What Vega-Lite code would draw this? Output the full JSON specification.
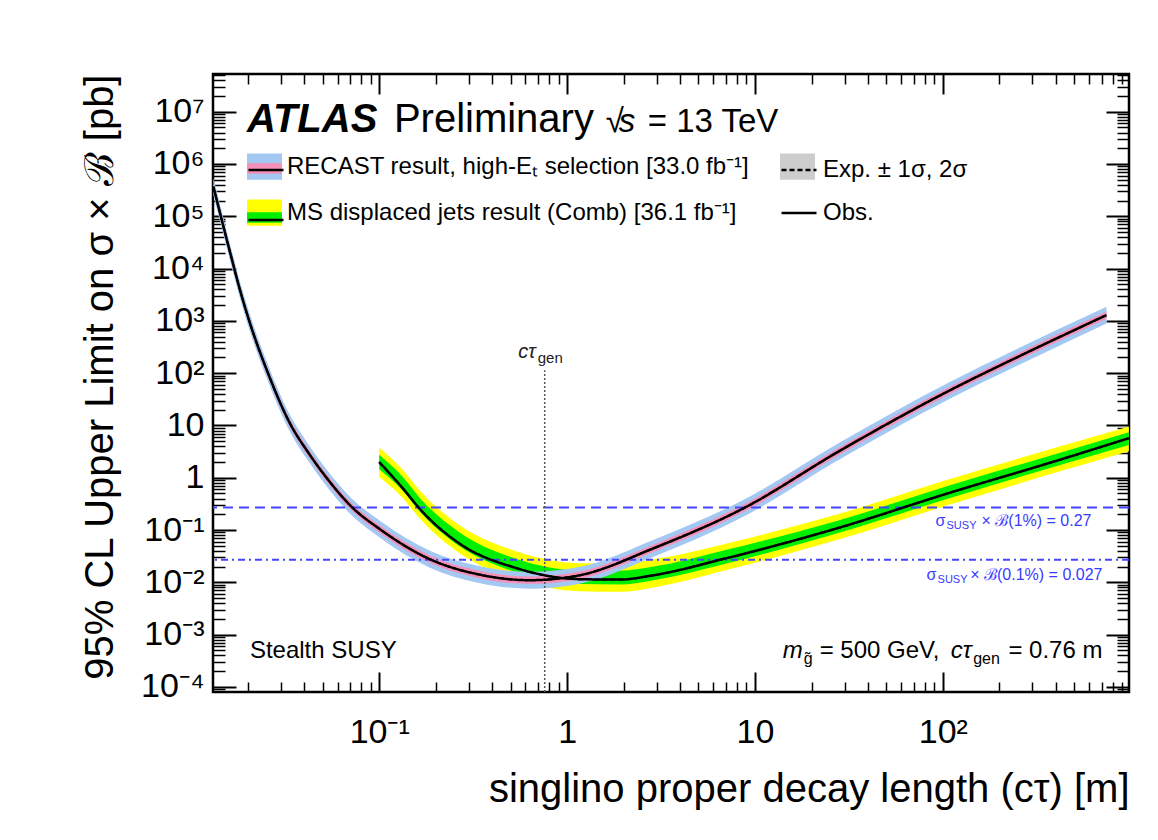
{
"$schema": "https://vega.github.io/schema/vega-lite/v6.json",
"width": 916, "height": 618,
"autosize": {"type": "none"},
"padding": {"left": 213, "top": 74, "right": 29, "bottom": 148},
"background": "white",
"config": {
  "view": {"stroke": "black", "strokeWidth": 2.5},
  "font": "Liberation Sans",
  "axis": {"domain": false, "grid": false, "tickColor": "black", "labelColor": "black", "titleColor": "black", "labelFont": "Liberation Sans", "titleFont": "Liberation Sans", "titleFontWeight": "normal", "labelOverlap": false, "labelFlush": false, "labelBound": false},
  "legend": {"orient": "none", "title": null, "padding": 0, "labelFont": "Liberation Sans", "labelFontSize": 24, "labelColor": "black", "labelLimit": 2000, "labelOffset": 5, "symbolSize": 1225}
},
"datasets": {
  "recast": [
    {"result":"RECAST","ctau":0.0131,"obs":370000,"exp":370000,"lo2":255000,"lo1":315000,"hi1":435000,"hi2":537000},
    {"result":"RECAST","ctau":0.01606,"obs":20700,"exp":20700,"lo2":14300,"lo1":17600,"hi1":24300,"hi2":30000},
    {"result":"RECAST","ctau":0.01816,"obs":3880,"exp":3880,"lo2":2680,"lo1":3300,"hi1":4560,"hi2":5630},
    {"result":"RECAST","ctau":0.02027,"obs":1035,"exp":1035,"lo2":714,"lo1":881,"hi1":1216,"hi2":1500},
    {"result":"RECAST","ctau":0.02559,"obs":100,"exp":100,"lo2":69,"lo1":85.1,"hi1":117.5,"hi2":145},
    {"result":"RECAST","ctau":0.0339,"obs":10.1,"exp":10.1,"lo2":6.97,"lo1":8.6,"hi1":11.87,"hi2":14.6},
    {"result":"RECAST","ctau":0.04176,"obs":3.09,"exp":3.09,"lo2":2.13,"lo1":2.63,"hi1":3.63,"hi2":4.48},
    {"result":"RECAST","ctau":0.0521,"obs":1.03,"exp":1.03,"lo2":0.711,"lo1":0.877,"hi1":1.21,"hi2":1.49},
    {"result":"RECAST","ctau":0.0716,"obs":0.274,"exp":0.274,"lo2":0.189,"lo1":0.233,"hi1":0.322,"hi2":0.397},
    {"result":"RECAST","ctau":0.1009,"obs":0.1038,"exp":0.1038,"lo2":0.0716,"lo1":0.0883,"hi1":0.122,"hi2":0.151},
    {"result":"RECAST","ctau":0.1861,"obs":0.0277,"exp":0.0277,"lo2":0.0191,"lo1":0.0236,"hi1":0.0325,"hi2":0.0402},
    {"result":"RECAST","ctau":0.335,"obs":0.01429,"exp":0.01429,"lo2":0.00986,"lo1":0.01216,"hi1":0.01679,"hi2":0.0207},
    {"result":"RECAST","ctau":0.633,"obs":0.01099,"exp":0.01099,"lo2":0.00758,"lo1":0.00935,"hi1":0.01291,"hi2":0.0159},
    {"result":"RECAST","ctau":1.168,"obs":0.01368,"exp":0.01368,"lo2":0.00944,"lo1":0.01164,"hi1":0.01607,"hi2":0.0198},
    {"result":"RECAST","ctau":2.892,"obs":0.045,"exp":0.045,"lo2":0.031,"lo1":0.0383,"hi1":0.0529,"hi2":0.0653},
    {"result":"RECAST","ctau":8.92,"obs":0.274,"exp":0.274,"lo2":0.189,"lo1":0.233,"hi1":0.322,"hi2":0.397},
    {"result":"RECAST","ctau":27.5,"obs":3.09,"exp":3.09,"lo2":2.13,"lo1":2.63,"hi1":3.63,"hi2":4.48},
    {"result":"RECAST","ctau":107,"obs":45.4,"exp":45.4,"lo2":31.3,"lo1":38.6,"hi1":53.3,"hi2":65.8},
    {"result":"RECAST","ctau":262,"obs":221,"exp":221,"lo2":152,"lo1":188,"hi1":260,"hi2":320},
    {"result":"RECAST","ctau":743,"obs":1290,"exp":1290,"lo2":890,"lo1":1098,"hi1":1516,"hi2":1870}
  ],
  "ms": [
    {"result":"MS","ctau":0.1,"obs":1.99,"exp":1.99,"lo2":1.05,"lo1":1.45,"hi1":2.75,"hi2":3.8},
    {"result":"MS","ctau":0.132,"obs":0.66,"exp":0.66,"lo2":0.43,"lo1":0.59,"hi1":1.08,"hi2":1.49},
    {"result":"MS","ctau":0.1667,"obs":0.24,"exp":0.24,"lo2":0.157,"lo1":0.215,"hi1":0.39,"hi2":0.54},
    {"result":"MS","ctau":0.2655,"obs":0.0561,"exp":0.0561,"lo2":0.037,"lo1":0.05,"hi1":0.092,"hi2":0.126},
    {"result":"MS","ctau":0.54,"obs":0.0186,"exp":0.0186,"lo2":0.0113,"lo1":0.0155,"hi1":0.028,"hi2":0.039},
    {"result":"MS","ctau":1.168,"obs":0.0115,"exp":0.0115,"lo2":0.00675,"lo1":0.00925,"hi1":0.0169,"hi2":0.0233},
    {"result":"MS","ctau":1.907,"obs":0.0113,"exp":0.0113,"lo2":0.0066,"lo1":0.0091,"hi1":0.0166,"hi2":0.0229},
    {"result":"MS","ctau":2.892,"obs":0.0137,"exp":0.0137,"lo2":0.008,"lo1":0.011,"hi1":0.02,"hi2":0.0275},
    {"result":"MS","ctau":7.07,"obs":0.029,"exp":0.029,"lo2":0.0172,"lo1":0.023,"hi1":0.0419,"hi2":0.0555},
    {"result":"MS","ctau":27.5,"obs":0.1086,"exp":0.1086,"lo2":0.065,"lo1":0.087,"hi1":0.15,"hi2":0.2},
    {"result":"MS","ctau":107,"obs":0.507,"exp":0.507,"lo2":0.3,"lo1":0.4,"hi1":0.7,"hi2":0.93},
    {"result":"MS","ctau":412.6,"obs":2.17,"exp":2.17,"lo2":1.3,"lo1":1.72,"hi1":2.95,"hi2":3.9},
    {"result":"MS","ctau":978,"obs":5.72,"exp":5.72,"lo2":3.2,"lo1":4.25,"hi1":7.4,"hi2":9.6}
  ],
  "xsec": [{"name":"1%","value":0.27},{"name":"0.1%","value":0.027}],
  "gen": [{"ctau":0.76,"ylo":0.00008,"yhi":114}]
},
"resolve": {"axis": {"x": "independent", "y": "independent"}},
"layer": [
  {"data": {"name": "ms"}, "mark": {"type": "area", "interpolate": "monotone", "clip": true},
   "encoding": {
     "x": {"field": "ctau", "type": "quantitative", "scale": {"type": "log", "domain": [0.01304, 979], "nice": false},
           "axis": {"orient": "top", "values": [0.1,1,10,100], "tickSize": -20, "tickWidth": 2, "labels": false, "title": null}},
     "y": {"field": "lo2", "type": "quantitative", "scale": {"type": "log", "domain": [0.00008, 52600000], "nice": false},
           "axis": {"orient": "right", "values": [0.0001,0.001,0.01,0.1,1,10,100,1000,10000,100000,1000000,10000000], "tickSize": -23, "tickWidth": 2, "labels": false, "title": null}},
     "y2": {"field": "hi2"},
     "fill": {"field": "result", "type": "nominal",
              "scale": {"domain": ["RECAST","MS"], "range": ["#a3c8f2","#ffff00"]},
              "legend": {"values": ["RECAST","MS"], "symbolType": "M-1,-0.75H1V0.75H-1Z", "symbolStrokeWidth": 0, "zindex": 1, "legendX": 34, "legendY": 75, "rowPadding": 15,
                         "labelExpr": "datum.label == 'RECAST' ? 'RECAST result, high-Eₜ selection [33.0 fb⁻¹]' : 'MS displaced jets result (Comb) [36.1 fb⁻¹]'"}},
     "opacity": {"datum": 1, "type": "quantitative", "scale": {"domain": [0, 1], "range": [0, 1]},
              "legend": {"values": [1, 0], "symbolType": "M-1,-0.75H1V0.75H-1Z", "symbolFillColor": "#cdcdcd", "symbolStrokeWidth": 0, "labelOpacity": 0, "zindex": 1, "legendX": 567, "legendY": 75, "rowPadding": 15,
                         "labelExpr": "datum.value == 1 ? 'Exp. ± 1σ, 2σ' : 'Obs.'"}}
   }},
  {"data": {"name": "ms"}, "mark": {"type": "area", "interpolate": "monotone", "clip": true},
   "encoding": {
     "x": {"field": "ctau", "type": "quantitative", "scale": {"type": "log", "domain": [0.01304, 979], "nice": false},
           "axis": {"orient": "top", "values": [0.02,0.03,0.04,0.05,0.06,0.07,0.08,0.09,0.2,0.3,0.4,0.5,0.6,0.7,0.8,0.9,2,3,4,5,6,7,8,9,20,30,40,50,60,70,80,90,200,300,400,500,600,700,800,900], "tickSize": -10, "tickWidth": 1.5, "labels": false, "title": null}},
     "y": {"field": "lo1", "type": "quantitative", "scale": {"type": "log", "domain": [0.00008, 52600000], "nice": false},
           "axis": {"orient": "right", "values": [0.00009,0.0002,0.0003,0.0004,0.0005,0.0006,0.0007,0.0008,0.0009,0.002,0.003,0.004,0.005,0.006,0.007,0.008,0.009,0.02,0.03,0.04,0.05,0.06,0.07,0.08,0.09,0.2,0.3,0.4,0.5,0.6,0.7,0.8,0.9,2,3,4,5,6,7,8,9,20,30,40,50,60,70,80,90,200,300,400,500,600,700,800,900,2000,3000,4000,5000,6000,7000,8000,9000,20000,30000,40000,50000,60000,70000,80000,90000,200000,300000,400000,500000,600000,700000,800000,900000,2000000,3000000,4000000,5000000,6000000,7000000,8000000,9000000,20000000,30000000,40000000,50000000], "tickSize": -12, "tickWidth": 1.5, "labels": false, "title": null}},
     "y2": {"field": "hi1"},
     "color": {"field": "result", "type": "nominal",
              "scale": {"domain": ["MS","RECAST"], "range": ["#00ee00","#f590b8"]},
              "legend": {"values": ["RECAST","MS"], "symbolType": "M-1,-0.3H1V0.3H-1Z", "symbolStrokeWidth": 0, "labelOpacity": 0, "zindex": 2, "legendX": 34, "legendY": 77, "rowPadding": 19,
                         "labelExpr": "datum.label == 'RECAST' ? 'RECAST result, high-Eₜ selection [33.0 fb⁻¹]' : 'MS displaced jets result (Comb) [36.1 fb⁻¹]'"}},
     "fillOpacity": {"datum": 10, "type": "quantitative", "scale": {"domain": [0, 10], "range": [0, 1]},
              "legend": {"values": [10, 0], "symbolType": "M-1,-0.3H1V0.3H-1Z", "symbolFillColor": "#8c8c8c", "symbolStrokeWidth": 0, "labelOpacity": 0, "zindex": 2, "legendX": 567, "legendY": 77, "rowPadding": 19,
                         "labelExpr": "datum.value == 10 ? 'Exp. ± 1σ, 2σ' : 'Obs.'"}}
   }},
  {"data": {"name": "recast"}, "mark": {"type": "area", "interpolate": "monotone", "clip": true},
   "encoding": {
     "x": {"field": "ctau", "type": "quantitative", "scale": {"type": "log", "domain": [0.01304, 979], "nice": false},
           "axis": {"orient": "bottom", "values": [0.1,1,10,100], "tickSize": -20, "tickWidth": 2, "labelFontSize": 34, "labelPadding": 43,
                    "labelExpr": "['10⁻¹','1','10','10²'][round(log(datum.value)/LN10)+1]",
                    "title": "singlino proper decay length (cτ) [m]", "titleFontSize": 40, "titleAnchor": "end", "titlePadding": 20}},
     "y": {"field": "lo2", "type": "quantitative", "scale": {"type": "log", "domain": [0.00008, 52600000], "nice": false},
           "axis": {"orient": "left", "values": [0.0001,0.001,0.01,0.1,1,10,100,1000,10000,100000,1000000,10000000], "tickSize": -23, "tickWidth": 2, "labelFontSize": 34, "labelPadding": 32,
                    "labelExpr": "['10⁻⁴','10⁻³','10⁻²','10⁻¹','1','10','10²','10³','10⁴','10⁵','10⁶','10⁷'][round(log(datum.value)/LN10)+4]",
                    "title": "95% CL Upper Limit on σ × ℬ [pb]", "titleFontSize": 40, "titleAnchor": "end", "titlePadding": 20}},
     "y2": {"field": "hi2"},
     "fill": {"field": "result", "type": "nominal", "scale": {"domain": ["RECAST","MS"], "range": ["#a3c8f2","#ffff00"]}}
   }},
  {"data": {"name": "recast"}, "mark": {"type": "area", "interpolate": "monotone", "clip": true},
   "encoding": {
     "x": {"field": "ctau", "type": "quantitative", "scale": {"type": "log", "domain": [0.01304, 979], "nice": false},
           "axis": {"orient": "bottom", "values": [0.02,0.03,0.04,0.05,0.06,0.07,0.08,0.09,0.2,0.3,0.4,0.5,0.6,0.7,0.8,0.9,2,3,4,5,6,7,8,9,20,30,40,50,60,70,80,90,200,300,400,500,600,700,800,900], "tickSize": -10, "tickWidth": 1.5, "labels": false, "title": null}},
     "y": {"field": "lo1", "type": "quantitative", "scale": {"type": "log", "domain": [0.00008, 52600000], "nice": false},
           "axis": {"orient": "left", "values": [0.00009,0.0002,0.0003,0.0004,0.0005,0.0006,0.0007,0.0008,0.0009,0.002,0.003,0.004,0.005,0.006,0.007,0.008,0.009,0.02,0.03,0.04,0.05,0.06,0.07,0.08,0.09,0.2,0.3,0.4,0.5,0.6,0.7,0.8,0.9,2,3,4,5,6,7,8,9,20,30,40,50,60,70,80,90,200,300,400,500,600,700,800,900,2000,3000,4000,5000,6000,7000,8000,9000,20000,30000,40000,50000,60000,70000,80000,90000,200000,300000,400000,500000,600000,700000,800000,900000,2000000,3000000,4000000,5000000,6000000,7000000,8000000,9000000,20000000,30000000,40000000,50000000], "tickSize": -12, "tickWidth": 1.5, "labels": false, "title": null}},
     "y2": {"field": "hi1"},
     "color": {"field": "result", "type": "nominal", "scale": {"domain": ["MS","RECAST"], "range": ["#00ee00","#f590b8"]}}
   }},
  {"data": {"name": "xsec"}, "transform": [{"filter": "datum.name == '1%'"}],
   "mark": {"type": "rule", "color": "#4646ff", "strokeWidth": 2, "strokeDash": [10, 6]},
   "encoding": {"y": {"field": "value", "type": "quantitative", "scale": {"type": "log", "domain": [0.00008, 52600000], "nice": false}, "axis": null}}},
  {"data": {"name": "xsec"}, "transform": [{"filter": "datum.name == '0.1%'"}],
   "mark": {"type": "rule", "color": "#4646ff", "strokeWidth": 2, "strokeDash": [7, 4, 2, 4]},
   "encoding": {"y": {"field": "value", "type": "quantitative", "scale": {"type": "log", "domain": [0.00008, 52600000], "nice": false}, "axis": null}}},
  {"data": {"name": "gen"},
   "mark": {"type": "rule", "color": "#555555", "strokeWidth": 1.5, "strokeDash": [2, 2]},
   "encoding": {
     "x": {"field": "ctau", "type": "quantitative", "scale": {"type": "log", "domain": [0.01304, 979], "nice": false}, "axis": null},
     "y": {"field": "ylo", "type": "quantitative", "scale": {"type": "log", "domain": [0.00008, 52600000], "nice": false}, "axis": null},
     "y2": {"field": "yhi"}}},
  {"data": {"name": "ms"}, "mark": {"type": "line", "interpolate": "monotone", "clip": true, "color": "black", "strokeWidth": 2},
   "encoding": {
     "x": {"field": "ctau", "type": "quantitative", "scale": {"type": "log", "domain": [0.01304, 979], "nice": false}, "axis": null},
     "y": {"field": "exp", "type": "quantitative", "scale": {"type": "log", "domain": [0.00008, 52600000], "nice": false}, "axis": null},
     "strokeDash": {"datum": "Exp", "type": "nominal",
                    "scale": {"domain": ["Exp","Obs"], "range": [[5,3],[1,0]]},
                    "legend": {"values": ["Exp","Obs"], "symbolType": "stroke", "symbolStrokeColor": "black", "symbolStrokeWidth": 2.5, "zindex": 3, "legendX": 567, "legendY": 77, "rowPadding": 12,
                               "labelExpr": "datum.label == 'Exp' ? 'Exp. ± 1σ, 2σ' : 'Obs.'"}}}},
  {"data": {"name": "ms"}, "mark": {"type": "line", "interpolate": "monotone", "clip": true, "color": "black", "strokeWidth": 2.5},
   "encoding": {
     "x": {"field": "ctau", "type": "quantitative", "scale": {"type": "log", "domain": [0.01304, 979], "nice": false}, "axis": null},
     "y": {"field": "obs", "type": "quantitative", "scale": {"type": "log", "domain": [0.00008, 52600000], "nice": false}, "axis": null},
     "strokeDash": {"datum": "Obs", "type": "nominal", "scale": {"domain": ["Exp","Obs"], "range": [[5,3],[1,0]]}},
     "stroke": {"datum": "L", "type": "nominal", "scale": {"domain": ["RECAST","MS","L"], "range": ["black","black","black"]},
                "legend": {"values": ["RECAST","MS"], "symbolType": "stroke", "symbolStrokeWidth": 2.5, "labelOpacity": 0, "zindex": 3, "legendX": 34, "legendY": 77, "rowPadding": 19,
                           "labelExpr": "datum.label == 'RECAST' ? 'RECAST result, high-Eₜ selection [33.0 fb⁻¹]' : 'MS displaced jets result (Comb) [36.1 fb⁻¹]'"}}}},
  {"data": {"name": "recast"}, "mark": {"type": "line", "interpolate": "monotone", "clip": true, "color": "black", "strokeWidth": 2},
   "encoding": {
     "x": {"field": "ctau", "type": "quantitative", "scale": {"type": "log", "domain": [0.01304, 979], "nice": false}, "axis": null},
     "y": {"field": "exp", "type": "quantitative", "scale": {"type": "log", "domain": [0.00008, 52600000], "nice": false}, "axis": null},
     "strokeDash": {"datum": "Exp", "type": "nominal", "scale": {"domain": ["Exp","Obs"], "range": [[5,3],[1,0]]}}}},
  {"data": {"name": "recast"}, "mark": {"type": "line", "interpolate": "monotone", "clip": true, "color": "black", "strokeWidth": 2.5},
   "encoding": {
     "x": {"field": "ctau", "type": "quantitative", "scale": {"type": "log", "domain": [0.01304, 979], "nice": false}, "axis": null},
     "y": {"field": "obs", "type": "quantitative", "scale": {"type": "log", "domain": [0.00008, 52600000], "nice": false}, "axis": null},
     "strokeDash": {"datum": "Obs", "type": "nominal", "scale": {"domain": ["Exp","Obs"], "range": [[5,3],[1,0]]}},
     "stroke": {"datum": "L", "type": "nominal", "scale": {"domain": ["RECAST","MS","L"], "range": ["black","black","black"]}}}},
  {"data": {"values": [{"x": 0.01978, "y": 4100000, "text": "ATLAS"}]},
   "mark": {"type": "text", "font": "Liberation Sans", "fontSize": 40, "fontWeight": "bold", "fontStyle": "italic", "align": "left", "baseline": "alphabetic", "color": "black"},
   "encoding": {"x": {"field": "x", "type": "quantitative", "scale": {"type": "log", "domain": [0.01304, 979], "nice": false}, "axis": null},
                "y": {"field": "y", "type": "quantitative", "scale": {"type": "log", "domain": [0.00008, 52600000], "nice": false}, "axis": null},
                "text": {"field": "text"}}},
  {"data": {"values": [{"x": 0.1197, "y": 4100000, "text": "Preliminary"}]},
   "mark": {"type": "text", "font": "Liberation Sans", "fontSize": 40, "align": "left", "baseline": "alphabetic", "color": "black"},
   "encoding": {"x": {"field": "x", "type": "quantitative", "scale": {"type": "log", "domain": [0.01304, 979], "nice": false}, "axis": null},
                "y": {"field": "y", "type": "quantitative", "scale": {"type": "log", "domain": [0.00008, 52600000], "nice": false}, "axis": null},
                "text": {"field": "text"}}},
  {"data": {"values": [{"x": 1.606, "y": 4100000, "text": "√"}, {"x": 2.687, "y": 4100000, "text": "= 13 TeV"}]},
   "mark": {"type": "text", "font": "Liberation Sans", "fontSize": 33, "align": "left", "baseline": "alphabetic", "color": "black"},
   "encoding": {"x": {"field": "x", "type": "quantitative", "scale": {"type": "log", "domain": [0.01304, 979], "nice": false}, "axis": null},
                "y": {"field": "y", "type": "quantitative", "scale": {"type": "log", "domain": [0.00008, 52600000], "nice": false}, "axis": null},
                "text": {"field": "text"}}},
  {"data": {"values": [{"x": 1.884, "y": 4100000, "text": "s"}]},
   "mark": {"type": "text", "font": "Liberation Sans", "fontSize": 33, "fontStyle": "italic", "align": "left", "baseline": "alphabetic", "color": "black"},
   "encoding": {"x": {"field": "x", "type": "quantitative", "scale": {"type": "log", "domain": [0.01304, 979], "nice": false}, "axis": null},
                "y": {"field": "y", "type": "quantitative", "scale": {"type": "log", "domain": [0.00008, 52600000], "nice": false}, "axis": null},
                "text": {"field": "text"}}},
  {"data": {"values": [{"x": 0.0205, "y": 0.00035, "text": "Stealth SUSY"}, {"x": 22.09, "y": 0.00035, "text": "= 500 GeV,"}]},
   "mark": {"type": "text", "font": "Liberation Sans", "fontSize": 24, "align": "left", "baseline": "alphabetic", "color": "black"},
   "encoding": {"x": {"field": "x", "type": "quantitative", "scale": {"type": "log", "domain": [0.01304, 979], "nice": false}, "axis": null},
                "y": {"field": "y", "type": "quantitative", "scale": {"type": "log", "domain": [0.00008, 52600000], "nice": false}, "axis": null},
                "text": {"field": "text"}}},
  {"data": {"values": [{"x": 707, "y": 0.00035, "text": "= 0.76 m"}]},
   "mark": {"type": "text", "font": "Liberation Sans", "fontSize": 24, "align": "right", "baseline": "alphabetic", "color": "black"},
   "encoding": {"x": {"field": "x", "type": "quantitative", "scale": {"type": "log", "domain": [0.01304, 979], "nice": false}, "axis": null},
                "y": {"field": "y", "type": "quantitative", "scale": {"type": "log", "domain": [0.00008, 52600000], "nice": false}, "axis": null},
                "text": {"field": "text"}}},
  {"data": {"values": [{"x": 14.04, "y": 0.00035, "text": "m"}]},
   "mark": {"type": "text", "font": "Liberation Sans", "fontSize": 24, "fontStyle": "italic", "align": "left", "baseline": "alphabetic", "color": "black"},
   "encoding": {"x": {"field": "x", "type": "quantitative", "scale": {"type": "log", "domain": [0.01304, 979], "nice": false}, "axis": null},
                "y": {"field": "y", "type": "quantitative", "scale": {"type": "log", "domain": [0.00008, 52600000], "nice": false}, "axis": null},
                "text": {"field": "text"}}},
  {"data": {"values": [{"x": 142.5, "y": 0.00035, "text": "cτ"}]},
   "mark": {"type": "text", "font": "Liberation Sans", "fontSize": 24, "fontStyle": "italic", "align": "right", "baseline": "alphabetic", "color": "black"},
   "encoding": {"x": {"field": "x", "type": "quantitative", "scale": {"type": "log", "domain": [0.01304, 979], "nice": false}, "axis": null},
                "y": {"field": "y", "type": "quantitative", "scale": {"type": "log", "domain": [0.00008, 52600000], "nice": false}, "axis": null},
                "text": {"field": "text"}}},
  {"data": {"values": [{"x": 18.16, "y": 0.00035, "text": "g̃"}, {"x": 145, "y": 0.00035, "text": "gen"}]},
   "mark": {"type": "text", "font": "Liberation Sans", "fontSize": 16, "align": "left", "baseline": "alphabetic", "dy": 6, "color": "black"},
   "encoding": {"x": {"field": "x", "type": "quantitative", "scale": {"type": "log", "domain": [0.01304, 979], "nice": false}, "axis": null},
                "y": {"field": "y", "type": "quantitative", "scale": {"type": "log", "domain": [0.00008, 52600000], "nice": false}, "axis": null},
                "text": {"field": "text"}}},
  {"data": {"values": [{"x": 0.6817, "y": 194, "text": "cτ"}]},
   "mark": {"type": "text", "font": "Liberation Sans", "fontSize": 20, "fontStyle": "italic", "align": "right", "baseline": "alphabetic", "color": "#222222"},
   "encoding": {"x": {"field": "x", "type": "quantitative", "scale": {"type": "log", "domain": [0.01304, 979], "nice": false}, "axis": null},
                "y": {"field": "y", "type": "quantitative", "scale": {"type": "log", "domain": [0.00008, 52600000], "nice": false}, "axis": null},
                "text": {"field": "text"}}},
  {"data": {"values": [{"x": 0.698, "y": 194, "text": "gen"}]},
   "mark": {"type": "text", "font": "Liberation Sans", "fontSize": 15, "align": "left", "baseline": "alphabetic", "dy": 5, "color": "#222222"},
   "encoding": {"x": {"field": "x", "type": "quantitative", "scale": {"type": "log", "domain": [0.01304, 979], "nice": false}, "axis": null},
                "y": {"field": "y", "type": "quantitative", "scale": {"type": "log", "domain": [0.00008, 52600000], "nice": false}, "axis": null},
                "text": {"field": "text"}}},
  {"data": {"values": [{"x": 91.4, "y": 0.1476, "text": "σ"}, {"x": 81.9, "y": 0.01368, "text": "σ"}]},
   "mark": {"type": "text", "font": "Liberation Sans", "fontSize": 16, "align": "left", "baseline": "middle", "color": "#3a3aff"},
   "encoding": {"x": {"field": "x", "type": "quantitative", "scale": {"type": "log", "domain": [0.01304, 979], "nice": false}, "axis": null},
                "y": {"field": "y", "type": "quantitative", "scale": {"type": "log", "domain": [0.00008, 52600000], "nice": false}, "axis": null},
                "text": {"field": "text"}}},
  {"data": {"values": [{"x": 104.6, "y": 0.1476, "text": "SUSY"}, {"x": 93.7, "y": 0.01368, "text": "SUSY"}]},
   "mark": {"type": "text", "font": "Liberation Sans", "fontSize": 11, "align": "left", "baseline": "middle", "dy": 5, "color": "#3a3aff"},
   "encoding": {"x": {"field": "x", "type": "quantitative", "scale": {"type": "log", "domain": [0.01304, 979], "nice": false}, "axis": null},
                "y": {"field": "y", "type": "quantitative", "scale": {"type": "log", "domain": [0.00008, 52600000], "nice": false}, "axis": null},
                "text": {"field": "text"}}},
  {"data": {"values": [{"x": 618, "y": 0.1476, "text": "× ℬ(1%) = 0.27"}, {"x": 707, "y": 0.01368, "text": "× ℬ(0.1%) = 0.027"}]},
   "mark": {"type": "text", "font": "Liberation Sans", "fontSize": 16, "align": "right", "baseline": "middle", "color": "#3a3aff"},
   "encoding": {"x": {"field": "x", "type": "quantitative", "scale": {"type": "log", "domain": [0.01304, 979], "nice": false}, "axis": null},
                "y": {"field": "y", "type": "quantitative", "scale": {"type": "log", "domain": [0.00008, 52600000], "nice": false}, "axis": null},
                "text": {"field": "text"}}}
]
}
